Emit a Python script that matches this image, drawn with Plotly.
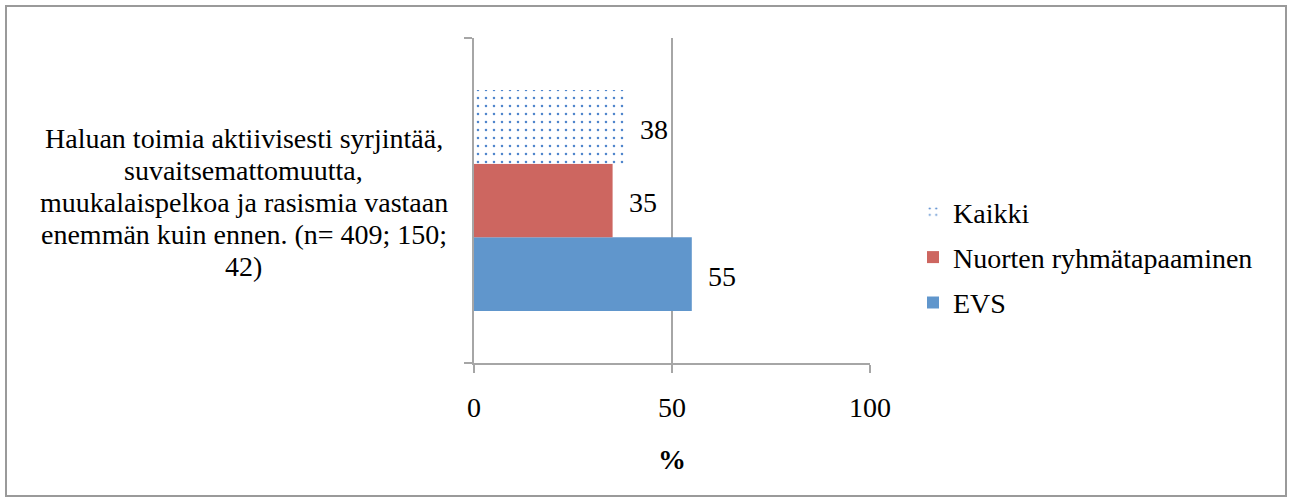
import plotly.graph_objects as go

category_lines = [
    "Haluan toimia aktiivisesti syrjintää,",
    "suvaitsemattomuutta,",
    "muukalaispelkoa ja rasismia vastaan",
    "enemmän kuin ennen. (n= 409; 150;",
    "42)",
]
series_names = ["EVS", "Nuorten ryhmätapaaminen", "Kaikki"]
series_values = [55, 35, 38]
legend_ranks = [3, 2, 1]
x_ticks = [0, 50, 100]

colors = {"EVS": "#6096CC", "Nuorten ryhmätapaaminen": "#CD6660", "Kaikki": "#FFFFFF"}

W, H = 1292, 503
L, R, T, B = 474, 1292 - 870, 38, 503 - 363
pw, ph = W - L - R, H - T - B

FONT = "'Liberation Serif', 'Times New Roman', serif"
FS = 28

fig = go.Figure()
for i, (name, val) in enumerate(zip(series_names, series_values)):
    marker = dict(color=colors[name], line=dict(width=0))
    if name == "Kaikki":
        marker["pattern"] = dict(shape=".", fgcolor="#4F86CC", bgcolor="#FFFFFF",
                                 size=8, solidity=0.08, fillmode="replace")
    fig.add_trace(go.Bar(
        y=["cat"], x=[val], name=name, orientation="h", marker=marker,
        legendgroup=name, legendrank=legend_ranks[i], offsetgroup=str(i),
    ))

# value labels
n = len(series_names)
for i, (name, val) in enumerate(zip(series_names, series_values)):
    fig.add_annotation(x=val, y=0, yref="y", xref="x", text=str(val), showarrow=False,
                       xanchor="left", xshift=14,
                       yshift=((i - (n - 1) / 2) * 73.5) - 2,
                       font=dict(family=FONT, size=FS, color="#000"))

# category label (one annotation per line, centred block)
for k, line in enumerate(category_lines):
    fig.add_annotation(x=0, xref="paper", y=0, yref="y", text=line, showarrow=False,
                       xanchor="center", xshift=243.5 - L, yshift=62.5 - 32 * k,
                       font=dict(family=FONT, size=FS, color="#000"))

# outer border (page pixel coords)
def px(xp):
    return (xp - L) / pw
def py(yp):
    return 1 - (yp - T) / ph
fig.add_shape(type="rect", xref="paper", yref="paper",
              x0=px(6), x1=px(1286), y0=py(496), y1=py(6),
              line=dict(color="#9A9A9A", width=2), layer="below")

fig.update_layout(
    width=W, height=H,
    margin=dict(l=L, r=R, t=T, b=B, autoexpand=False),
    paper_bgcolor="#FFFFFF", plot_bgcolor="#FFFFFF",
    barmode="group", bargap=0.32, bargroupgap=0,
    font=dict(family=FONT, size=FS, color="#000"),
    showlegend=True,
    legend=dict(x=px(913), y=py(187), xanchor="left", yanchor="top",
                traceorder="grouped", tracegroupgap=6,
                font=dict(family=FONT, size=FS, color="#000"),
                itemwidth=30, bgcolor="rgba(0,0,0,0)"),
    xaxis=dict(range=[0, 100], tickvals=x_ticks, ticktext=[str(v) for v in x_ticks],
               showgrid=True, gridcolor="#A6A6A6", gridwidth=1.5,
               showline=True, linecolor="#A6A6A6", linewidth=2,
               ticks="outside", ticklen=8, tickcolor="#A6A6A6", tickwidth=2,
               ticklabelstandoff=10, zeroline=False,
               title=dict(text="<b>%</b>", standoff=28, font=dict(family=FONT, size=FS)),
               fixedrange=True),
    yaxis=dict(showticklabels=False, showline=True, linecolor="#A6A6A6", linewidth=2,
               ticks="outside", ticklen=8, tickcolor="#A6A6A6", tickwidth=2,
               tickson="boundaries", showgrid=False, fixedrange=True),
)

fig.write_html("out.html", config={"displayModeBar": False},
               post_script="document.body.style.margin='0';document.body.style.overflow='hidden';")
